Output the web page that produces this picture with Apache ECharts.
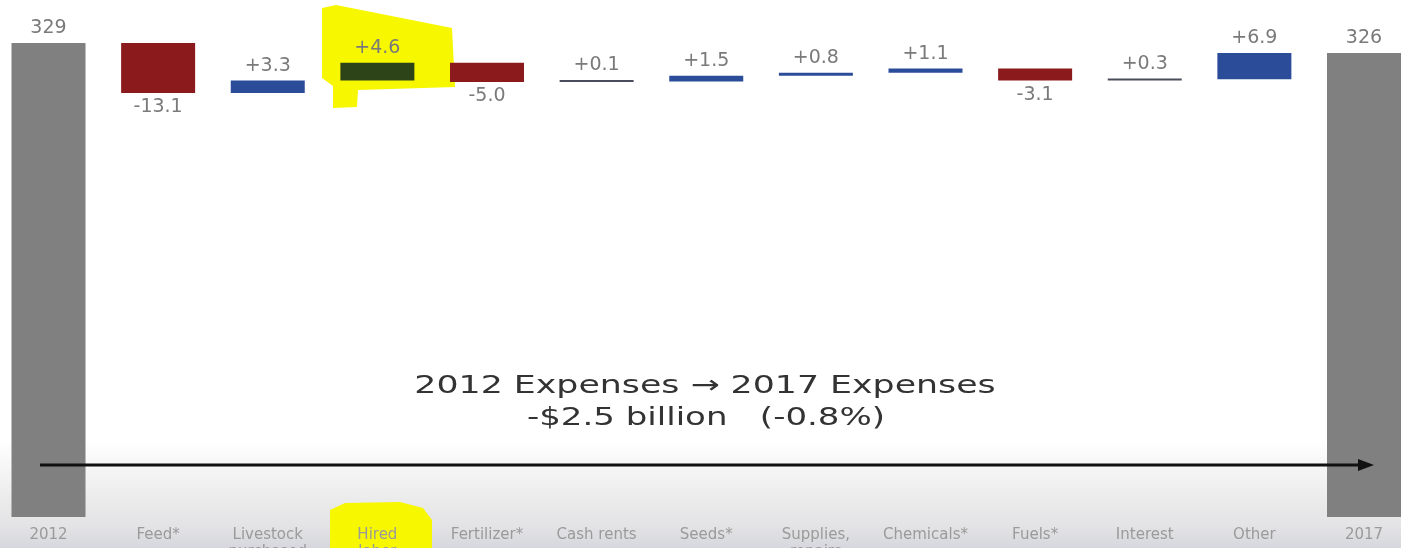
<!DOCTYPE html>
<html>
<head>
<meta charset="utf-8">
<script src="https://cdn.jsdelivr.net/npm/echarts@6/dist/echarts.min.js"></script>
<style>
html,body{margin:0;padding:0;background:#fff;}
#main{width:1401px;height:548px;}
</style>
</head>
<body>
<div id="main"></div>
<script>
// ---- data ----
const categories = ['2012', 'Feed*', 'Livestock\npurchased', 'Hired\nlabor', 'Fertilizer*', 'Cash rents', 'Seeds*', 'Supplies,\nrepairs', 'Chemicals*', 'Fuels*', 'Interest', 'Other', '2017'];
const startTotal = 329;
const endTotalLabel = 326;
const changes = [-13.1, 3.3, 4.6, -5.0, 0.1, 1.5, 0.8, 1.1, -3.1, 0.3, 6.9];
const highlighted = 'Hired\nlabor';
const yMin = 205;
const yMax = 335;

// ---- build waterfall series ----
const baseData = [];
const valueData = [];
let level = startTotal;
baseData.push(yMin);
valueData.push({ value: startTotal - yMin, itemStyle: { color: '#808080' }, label: { position: 'top', formatter: String(startTotal) } });
changes.forEach((d, i) => {
  const next = level + d;
  const lo = Math.min(level, next);
  baseData.push(lo);
  const cat = categories[i + 1];
  let color = d < 0 ? '#8a1a1b' : '#2b4c98';
  if (cat === highlighted) color = '#2d4419';
  if (Math.abs(d) < 0.5) color = '#4a4d5c';
  valueData.push({
    value: Math.abs(d),
    itemStyle: { color: color },
    label: { position: d < 0 ? 'bottom' : 'top', formatter: (d > 0 ? '+' : '') + d.toFixed(1) }
  });
  level = next;
});
baseData.push(yMin);
valueData.push({ value: level - yMin, itemStyle: { color: '#808080' }, label: { position: 'top', formatter: String(endTotalLabel) } });

const FONT = '"DejaVu Sans", "Liberation Sans", Arial, sans-serif';
const chart = echarts.init(document.getElementById('main'));
chart.setOption({
  backgroundColor: '#ffffff',
  animation: false,
  grid: { left: 48.5, right: 37, top: 20, bottom: 31, containLabel: false, outerBoundsMode: 'none' },
  xAxis: {
    type: 'category',
    boundaryGap: false,
    data: categories,
    axisLine: { show: false },
    axisTick: { show: false },
    axisLabel: { color: '#9a9a9a', fontSize: 15, margin: 10, lineHeight: 17, fontFamily: FONT, interval: 0, hideOverlap: false }
  },
  yAxis: { type: 'value', min: yMin, max: yMax, show: false, splitLine: { show: false } },
  graphic: [
    {
      type: 'rect', z: -10, silent: true,
      shape: { x: 0, y: 440, width: 1401, height: 108 },
      style: {
        fill: new echarts.graphic.LinearGradient(0, 0, 0, 1, [
          { offset: 0, color: '#ffffff' },
          { offset: 0.5, color: '#ededed' },
          { offset: 0.8, color: '#e3e3e5' },
          { offset: 1, color: '#d6d7dd' }
        ])
      }
    },
    {
      type: 'polygon', z: -5, silent: true,
      shape: { points: [[322, 8], [336, 5], [452, 28], [455, 87], [358, 90], [357, 107], [333, 108], [333, 86], [322, 78]] },
      style: { fill: '#f7f700' }
    },
    {
      type: 'polygon', z: -5, silent: true,
      shape: { points: [[330, 548], [330, 510], [345, 503], [400, 502], [423, 508], [432, 520], [432, 548]] },
      style: { fill: '#f7f700' }
    },
    {
      type: 'text', z: 100, x: 705, y: 386, scaleX: 1.39, silent: true,
      style: { text: '2012 Expenses \u2192 2017 Expenses', font: '25px ' + FONT, fill: '#333333', textAlign: 'center', textVerticalAlign: 'middle' }
    },
    {
      type: 'text', z: 100, x: 706, y: 418, scaleX: 1.36, silent: true,
      style: { text: '-$2.5 billion   (-0.8%)', font: '25px ' + FONT, fill: '#333333', textAlign: 'center', textVerticalAlign: 'middle' }
    },
    {
      type: 'line', z: 100, silent: true,
      shape: { x1: 40, y1: 465, x2: 1362, y2: 465 },
      style: { stroke: '#111111', lineWidth: 3 }
    },
    {
      type: 'polygon', z: 100, silent: true,
      shape: { points: [[1358, 459], [1374, 465], [1358, 471]] },
      style: { fill: '#111111' }
    }
  ],
  series: [
    {
      type: 'bar', stack: 'w', data: baseData, barWidth: 74, clip: false,
      itemStyle: { color: 'rgba(0,0,0,0)' }, silent: true, z: 2
    },
    {
      type: 'bar', stack: 'w', data: valueData, barWidth: 74, barMinHeight: 2, clip: false, z: 3,
      label: { show: true, color: '#7a7a7a', fontSize: 19, distance: 5, fontFamily: FONT }
    }
  ]
});
</script>
</body>
</html>
